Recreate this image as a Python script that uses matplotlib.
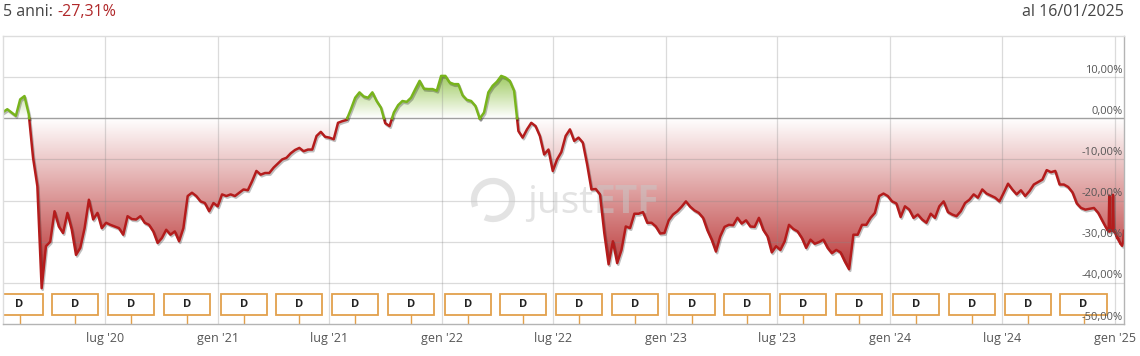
import numpy as np
import pandas as pd
import matplotlib
matplotlib.use('Agg')
import matplotlib.pyplot as plt
import matplotlib.dates as mdates
import matplotlib.patheffects as pe
from matplotlib.patches import Rectangle, PathPatch, Arc
from matplotlib.path import Path
from matplotlib.transforms import blended_transform_factory

plt.rcParams['font.family'] = ['Open Sans', 'DejaVu Sans']

# weekly performance in % starting 16/01/2020
start_date = '2020-01-16'
weekly_perf = [
    1.5, 2.2, 1.4, 0.6, 4.6, 5.4, 1.0, -9.6, -16.5, -41.3,
    -31.1, -30.0, -22.6, -26.3, -27.9, -23.0, -27.0, -33.2, -31.5, -26.7,
    -19.8, -24.6, -23.0, -26.7, -25.4, -25.9, -26.3, -26.7, -28.3, -23.8,
    -24.5, -24.6, -23.8, -25.4, -25.9, -27.5, -30.3, -29.1, -27.1, -28.3,
    -27.5, -29.9, -26.7, -18.9, -18.1, -18.9, -20.2, -20.6, -22.6, -20.6,
    -21.4, -18.5, -18.9, -18.5, -18.9, -18.1, -17.3, -17.5, -15.3, -12.8,
    -13.7, -13.3, -13.3, -12.0, -11.0, -10.0, -9.6, -8.5, -7.7, -7.2,
    -8.0, -7.6, -7.6, -4.3, -3.3, -4.5, -4.7, -5.1, -1.1, -0.7,
    -0.4, 2.2, 5.0, 6.3, 5.3, 5.0, 6.3, 4.2, 2.6, -1.2,
    -1.9, 1.4, 3.2, 4.2, 4.0, 5.0, 7.1, 9.1, 7.2, 7.1,
    7.1, 6.7, 10.3, 10.3, 8.7, 8.3, 8.3, 5.6, 4.5, 4.2,
    3.0, -0.1, 1.4, 6.3, 7.9, 8.9, 10.3, 9.9, 9.1, 6.7,
    -3.1, -4.7, -2.7, -1.1, -1.9, -4.3, -8.8, -7.6, -12.8, -10.0,
    -8.2, -4.3, -2.7, -5.5, -4.7, -5.9, -11.2, -17.3, -17.2, -18.5,
    -27.9, -35.5, -29.9, -35.2, -32.0, -26.3, -26.7, -23.2, -23.2, -22.8,
    -25.4, -25.4, -26.3, -28.0, -27.9, -24.8, -23.4, -22.6, -21.5, -20.2,
    -21.5, -22.4, -23.0, -24.2, -27.2, -29.5, -32.4, -28.7, -26.4, -25.9,
    -26.0, -24.2, -25.6, -24.8, -26.3, -26.4, -24.2, -27.1, -28.7, -32.6,
    -31.1, -32.0, -29.9, -25.9, -26.9, -27.5, -29.1, -31.5, -29.5, -30.5,
    -30.1, -29.5, -31.5, -32.8, -32.0, -32.6, -34.8, -36.7, -28.3, -28.3,
    -25.9, -25.9, -24.2, -23.0, -18.9, -18.3, -18.9, -20.2, -20.7, -24.0,
    -21.4, -22.2, -24.2, -23.4, -24.6, -25.4, -23.2, -24.2, -21.4, -20.2,
    -22.8, -23.4, -23.8, -22.6, -20.6, -19.8, -18.5, -19.3, -17.3, -18.3,
    -18.8, -19.3, -20.2, -18.1, -15.9, -17.3, -18.5, -17.5, -18.9, -17.7,
    -16.1, -15.5, -14.9, -12.6, -13.1, -12.8, -16.1, -16.1, -16.7, -18.0,
    -20.7, -21.8, -22.2, -22.0, -21.8, -23.0, -25.0, -26.9,
]
# daily values for the last weeks (20/12/2024 - 16/01/2025)
tail_start = '2024-12-20'
tail_perf = [
    -27.2, -27.3, -27.5, -18.8, -27.5, -27.4, -27.2, -27.0, -27.3, -18.6,
    -27.3, -27.6, -27.8, -28.0, -28.4, -28.8, -29.2, -29.0, -29.6, -29.9,
    -30.1, -30.5, -30.6, -30.8, -31.0, -30.4, -29.8, -27.31,
]
dividend_dates = [
    '2020-02-12', '2020-05-13', '2020-08-12', '2020-11-11',
    '2021-02-12', '2021-05-13', '2021-08-12', '2021-11-11',
    '2022-02-12', '2022-05-13', '2022-08-12', '2022-11-11',
    '2023-02-12', '2023-05-13', '2023-08-12', '2023-11-11',
    '2024-02-12', '2024-05-13', '2024-08-12', '2024-11-11',
]
x_tick_dates = ['2020-07-01', '2021-01-01', '2021-07-01', '2022-01-01', '2022-07-01',
                '2023-01-01', '2023-07-01', '2024-01-01', '2024-07-01', '2025-01-01']
x_tick_labels = ["lug '20", "gen '21", "lug '21", "gen '22", "lug '22",
                 "gen '23", "lug '23", "gen '24", "lug '24", "gen '25"]
y_ticks = [-50, -40, -30, -20, -10, 0, 10]
title_period = '5 anni: '
title_value = '-27,31%'
as_of_label = 'al 16/01/2025'

# build the series
dates = list(pd.date_range(start_date, periods=len(weekly_perf), freq='7D'))
dates += list(pd.date_range(tail_start, periods=len(tail_perf), freq='D'))
x = mdates.date2num(dates)
y = np.array(weekly_perf + tail_perf, dtype=float)

# insert zero crossings so the colour switch is clean
xs, ys = [x[0]], [y[0]]
for i in range(1, len(x)):
    if y[i - 1] * y[i] < 0:
        xc = x[i - 1] + (x[i] - x[i - 1]) * y[i - 1] / (y[i - 1] - y[i])
        xs.append(xc)
        ys.append(0.0)
    xs.append(x[i])
    ys.append(y[i])
xs = np.array(xs)
ys = np.array(ys)

fig = plt.figure(figsize=(11.4, 3.56), dpi=100)
ax = fig.add_axes([3 / 1140, 1 - 324 / 356, 1121 / 1140, 288 / 356])
ax.set_xlim(x[0], x[-1])
ax.set_ylim(-50, 20)

# gradient fills clipped to the area between line and zero
def gradient_fill(yvals, y0, y1, c_far, far):
    verts = list(zip(xs, yvals)) + [(xs[-1], 0), (xs[0], 0), (xs[0], yvals[0])]
    patch = PathPatch(Path(verts, closed=True), transform=ax.transData,
                      facecolor='none', edgecolor='none')
    ax.add_patch(patch)
    levels = np.linspace(y1, y0, 300)
    t = np.clip(np.abs(levels) / far, 0, 1)[:, None]
    rgb = (1 - t) * np.array([1.0, 1.0, 1.0]) + t * np.array(c_far)
    img = rgb[:, None, :]
    im = ax.imshow(img, extent=[xs[0], xs[-1], y0, y1], aspect='auto',
                   origin='upper', zorder=1, interpolation='bilinear')
    im.set_clip_path(patch)

gradient_fill(np.minimum(ys, 0), -50, 0, (0.70, 0.12, 0.12), 42)
gradient_fill(np.maximum(ys, 0), 0, 20, (0.45, 0.70, 0.10), 15)

# grid
grid_kw = dict(color='#888888', alpha=0.3, lw=0.9, zorder=1.5)
for yt in y_ticks:
    if yt not in (0, -50):
        ax.axhline(yt, **grid_kw)
for xt in x_tick_dates:
    ax.axvline(mdates.date2num(pd.Timestamp(xt)), **grid_kw)
ax.axhline(0, color='#a0a0a0', lw=1.0, zorder=1.6)

# watermark
wm_kw = dict(color='#c8c8c8', alpha=0.5, zorder=2.5)
wm = ax.text(527 / 1140, 1 - 213 / 356, 'just', transform=fig.transFigure,
             fontsize=28, va='baseline', ha='left', **wm_kw)
ax.annotate('ETF', xy=(1, 0), xycoords=wm, va='bottom', ha='left',
            fontsize=28, fontweight='bold', **wm_kw)
ax.add_patch(Arc((4.93, 1.56), 0.38, 0.38, theta1=245, theta2=200,
                 transform=fig.dpi_scale_trans, lw=4.5, **wm_kw))

# performance line
shadow = [pe.SimpleLineShadow(offset=(0.8, -1.2), shadow_color='k', alpha=0.25), pe.Normal()]
ax.plot(xs, np.where(ys <= 0, ys, np.nan), color='#b41c1c', lw=1.8, zorder=3,
        path_effects=shadow, solid_joinstyle='round')
ax.plot(xs, np.where(ys >= 0, ys, np.nan), color='#78b41c', lw=1.8, zorder=3,
        path_effects=shadow, solid_joinstyle='round')

# dividend markers
trans = blended_transform_factory(ax.transData, ax.transAxes)
for d in dividend_dates:
    xd = mdates.date2num(pd.Timestamp(d))
    ax.plot([xd, xd], [0, 0.031], color='#e2a04c', lw=1.0, transform=trans, zorder=4)
    ax.add_patch(Rectangle((xd - 37.5, 0.031), 75, 0.073, transform=trans,
                           facecolor='white', edgecolor='#e2a04c', lw=1.3, zorder=4))
    ax.text(xd, 0.0675, 'D', transform=trans, ha='center', va='center',
            fontsize=8, fontweight='bold', color='#222222', zorder=5)

# y labels inside the plot on the right
for yt in y_ticks:
    ax.annotate(f'{yt:.2f}'.replace('.', ',') + '%', xy=(1, yt),
                xycoords=('axes fraction', 'data'), xytext=(-1, 1),
                textcoords='offset points', ha='right', va='bottom',
                fontsize=8, color='#555555', zorder=6)

ax.set_yticks([])
ax.set_xticks(mdates.date2num(pd.to_datetime(x_tick_dates)))
ax.set_xticklabels(x_tick_labels)
ax.tick_params(axis='x', length=0, pad=6, labelsize=9, labelcolor='#555555')

for side in ('top', 'left'):
    ax.spines[side].set_color('#dddddd')
for side in ('bottom', 'right'):
    ax.spines[side].set_color('#b4b4b4')
for s in ax.spines.values():
    s.set_linewidth(1.0)
    s.set_zorder(7)

# header
t = fig.text(3 / 1140, 1 - 12 / 356, title_period, fontsize=11.5, color='#444444',
             ha='left', va='center')
fig.text(0, 0, title_value, fontsize=11.5, color='#b0282a', ha='left', va='center')
fig.texts[-1].remove()
ax.annotate(title_value, xy=(1, 0.5), xycoords=t, ha='left', va='center',
            fontsize=11.5, color='#b0282a', annotation_clip=False)
fig.text(1124 / 1140, 1 - 12 / 356, as_of_label, fontsize=11.5, color='#444444',
         ha='right', va='center')

fig.savefig('out.png', dpi=100)
